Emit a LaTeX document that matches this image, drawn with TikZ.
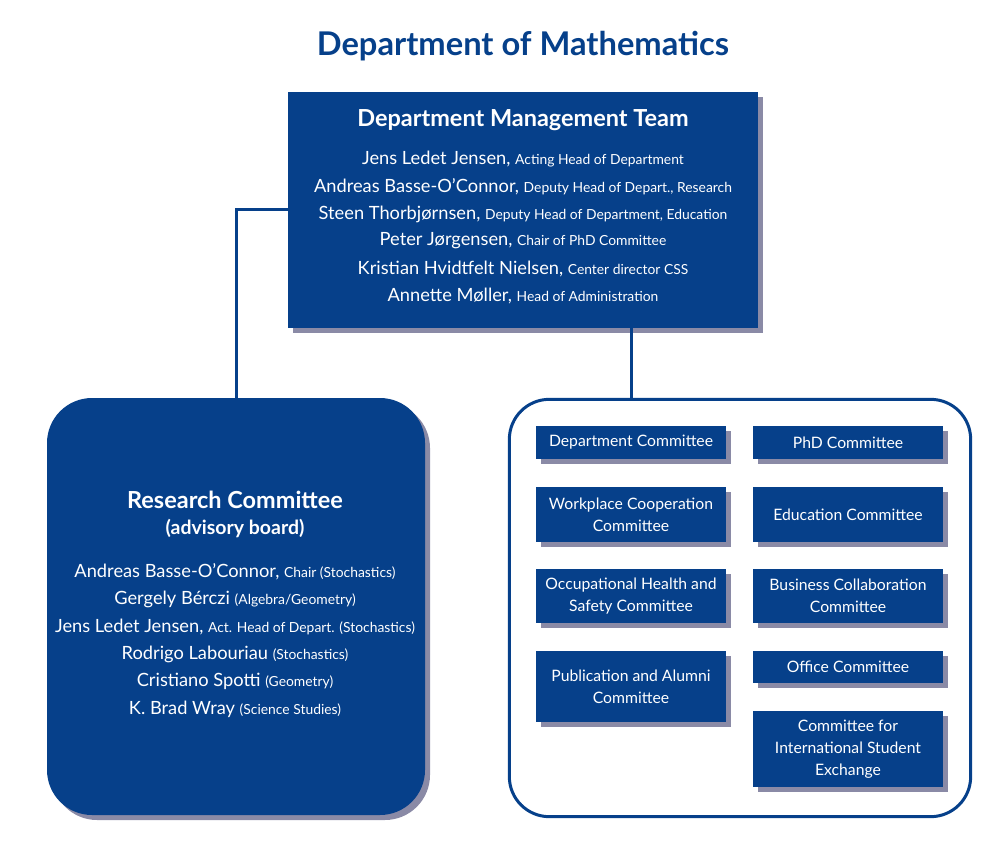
\documentclass[tikz,border=0pt]{standalone}
\usepackage{fontspec}
\setmainfont{Lato}
\usetikzlibrary{shadows}
\definecolor{aublue}{HTML}{06408A}
\definecolor{shadowc}{HTML}{8A8AA6}
\newcommand{\role}[1]{{\fontsize{10.4}{12}\selectfont #1}}
\tikzset{
 bluebox/.style={fill=aublue, draw=none, text=white, inner sep=0pt,
   drop shadow={shadow xshift=3.75pt, shadow yshift=-3.75pt, fill=shadowc, opacity=1}},
 smallbox/.style={bluebox, minimum width=142.5pt, align=center, font=\fontsize{11.8}{16.5}\selectfont},
 conn/.style={draw=aublue, line width=2.25pt},
 nm/.style={text=white, inner sep=0pt, font=\fontsize{13.7}{15}\selectfont},
 head/.style={text=white, inner sep=0pt, font=\bfseries\fontsize{17.6}{20}\selectfont},
}
\begin{document}
\begin{tikzpicture}[x=0.75pt,y=-0.75pt]
\useasboundingbox (0,0) rectangle (1000,845);
% title
\node[text=aublue, font=\bfseries\fontsize{24.5}{28}\selectfont] (title) at (523,46) {Department of Mathematics};
% boxes
\node[bluebox, minimum width=352.5pt, minimum height=177pt] (dmt) at (523,210) {};
\node[bluebox, minimum width=283.5pt, minimum height=312.75pt, rounded corners=33.75pt] (rc) at (236,606.5) {};
\node[draw=aublue, line width=2.25pt, fill=white, minimum width=346pt, minimum height=313pt, rounded corners=30pt] (outer) at (740,608) {};
% small boxes
\node[smallbox, minimum height=24.75pt] (dc) at (631,442.5) {Department Committee};
\node[smallbox, minimum height=24.75pt] (phd) at (848,442.5) {PhD Committee};
\node[smallbox, minimum height=41.25pt] (wcc) at (631,514.5) {Workplace Cooperation\\Committee};
\node[smallbox, minimum height=41.25pt] (edu) at (848,514.5) {Education Committee};
\node[smallbox, minimum height=40.5pt] (ohs) at (631,596) {Occupational Health and\\Safety Committee};
\node[smallbox, minimum height=40.5pt] (bcc) at (848,596) {Business Collaboration\\Committee};
\node[smallbox, minimum height=53.25pt] (pac) at (631,686.5) {Publication and Alumni\\Committee};
\node[smallbox, minimum height=24pt] (off) at (848,667) {Office Committee};
\node[smallbox, minimum height=57pt] (ise) at (848,749) {Committee for\\International Student\\Exchange};
% connectors
\draw[conn] (dmt.west) -| (rc.north);
\draw[conn] (dmt.south -| dc.north) -- (outer.north -| dc.north);
% DMT texts
\node[head] (dmth) at (523,120) {Department Management Team};
\node[nm] (d1) at (523,159) {Jens Ledet Jensen, \role{Acting Head of Department}};
\node[nm] (d2) at (523,187) {Andreas Basse-O’Connor, \role{Deputy Head of Depart., Research}};
\node[nm] (d3) at (523,214) {Steen Thorbjørnsen, \role{Deputy Head of Department, Education}};
\node[nm] (d4) at (523,241) {Peter Jørgensen, \role{Chair of PhD Committee}};
\node[nm] (d5) at (523,269) {Kristian Hvidtfelt Nielsen, \role{Center director CSS}};
\node[nm] (d6) at (523,296) {Annette Møller, \role{Head of Administration}};
% Research texts
\node[head] (rch) at (235,500) {Research Committee};
\node[head, font=\bfseries\fontsize{14.6}{17}\selectfont] (rca) at (235,528) {(advisory board)};
\node[nm] (r1) at (235,572) {Andreas Basse-O’Connor, \role{Chair (Stochastics)}};
\node[nm] (r2) at (235,599) {Gergely Bérczi \role{(Algebra/Geometry)}};
\node[nm] (r3) at (235,627) {Jens Ledet Jensen, \role{Act. Head of Depart. (Stochastics)}};
\node[nm] (r4) at (235,654) {Rodrigo Labouriau \role{(Stochastics)}};
\node[nm] (r5) at (235,681) {Cristiano Spotti \role{(Geometry)}};
\node[nm] (r6) at (235,709) {K. Brad Wray \role{(Science Studies)}};
\end{tikzpicture}
\end{document}
